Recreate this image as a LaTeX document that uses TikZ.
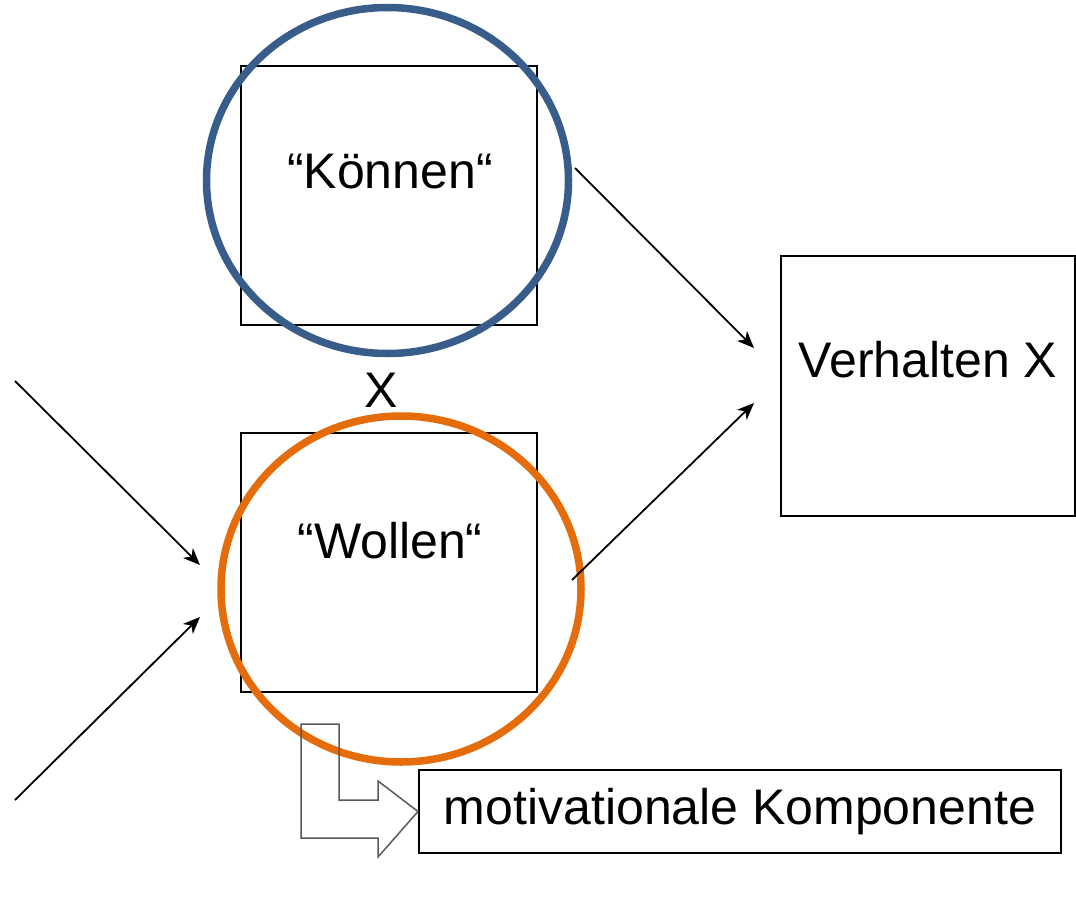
\documentclass[tikz,border=0pt]{standalone}
\usepackage{fontspec}
\setmainfont{Liberation Sans}
\usepackage{xcolor}
\usetikzlibrary{arrows.meta,positioning,calc}
\definecolor{ringblue}{HTML}{385D8A}
\definecolor{ringorange}{HTML}{E46C0A}
\definecolor{hollowgray}{HTML}{595959}
\tikzset{
  bigbox/.style={draw=black,line width=2pt,minimum width=296pt,minimum height=259pt,
                 inner sep=0pt},
  namebox/.style={draw=black,line width=2pt,inner sep=0pt,align=center,
                  font=\fontsize{50}{60}\selectfont},
  bigtext/.style={font=\fontsize{50}{60}\selectfont,inner sep=0pt,anchor=base},
  ring/.style={line width=7.5pt},
  flowarr/.style={-{Stealth[length=17pt,width=14pt,inset=5pt]},line width=1.8pt}
}

\begin{document}
\begin{tikzpicture}[x=1pt,y=-1pt]
  \useasboundingbox (0,0) rectangle (1076,907);

  % the two factors
  \node[bigbox] (kbox) at (389,195.5) {};
  \node[bigbox] (wbox) at (389,562.5) {};
  \node[bigtext] (ktext) at (390,188) {“Können“};
  \node[bigtext] (wtext) at (390,558) {“Wollen“};
  \node[bigtext] (times) at (381.5,407) {X};

  % outcome and component
  \node[namebox,minimum width=294pt,minimum height=260pt] (vbox) at (928,386) {};
  \node[bigtext] (vtext) at (928,377) {Verhalten X};
  \node[namebox,minimum width=642pt,minimum height=83pt] (mbox) at (740,811.5)
    {motivationale Komponente};

  % highlight rings
  \draw[ring,ringblue] (387.5,180.5) ellipse [x radius=181,y radius=173];
  \draw[ring,ringorange] (401,589) ellipse [x radius=180,y radius=173];

  % arrow ends
  \coordinate (k-out) at (575,168);
  \coordinate (w-out) at (572,580);
  \coordinate (v-in1) at ($(vbox.west)+(-26,-38)$);
  \coordinate (v-in2) at ($(vbox.west)+(-26,17)$);
  \coordinate (src1) at (15,381);
  \coordinate (src2) at (15,800);
  \coordinate (w-in1) at (200,565);
  \coordinate (w-in2) at (200,617);

  \draw[flowarr] (k-out) -- (v-in1);
  \draw[flowarr] (w-out) -- (v-in2);
  \draw[flowarr] (src1) -- (w-in1);
  \draw[flowarr] (src2) -- (w-in2);

  % hollow bent arrow
  \draw[hollowgray,line width=1.5pt,line join=miter]
    (301,724) -- (339,724) -- (339,800) -- (378,800) -- (378,781)
    -- (mbox.west) -- (378,857) -- (378,838) -- (301,838) -- cycle;
\end{tikzpicture}
\end{document}
